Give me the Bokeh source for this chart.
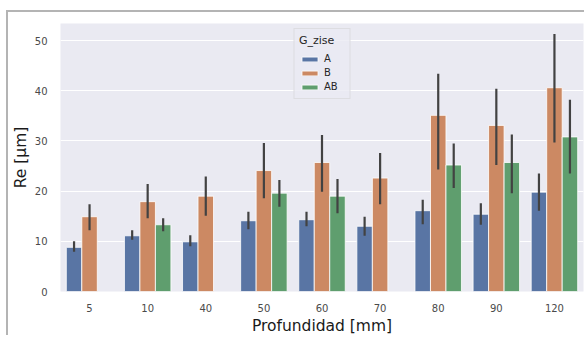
from bokeh.plotting import figure
from bokeh.models import FactorRange, ColumnDataSource, Legend, LegendItem, Range1d, SingleIntervalTicker
from bokeh.transform import dodge
from bokeh.embed import file_html
from bokeh.resources import INLINE

depths = ["5", "10", "40", "50", "60", "70", "80", "90", "120"]
groups = ["A", "B", "AB"]

a_mean = [8.8, 11.1, 9.9, 14.1, 14.3, 13.0, 16.1, 15.4, 19.8]
a_lo = [7.9, 10.3, 9.0, 12.4, 13.0, 11.1, 13.4, 13.3, 16.1]
a_hi = [10.0, 12.2, 11.2, 15.9, 15.9, 14.9, 18.3, 17.6, 23.5]

b_mean = [14.9, 17.9, 19.0, 24.1, 25.7, 22.6, 35.1, 33.1, 40.6]
b_lo = [12.2, 14.6, 15.1, 18.6, 19.9, 17.4, 24.3, 25.2, 29.7]
b_hi = [17.4, 21.4, 22.9, 29.6, 31.2, 27.6, 43.4, 40.4, 51.3]

ab_depths = ["10", "50", "60", "80", "90", "120"]
ab_mean = [13.3, 19.6, 19.0, 25.2, 25.7, 30.8]
ab_lo = [12.0, 16.9, 15.6, 20.6, 19.6, 23.5]
ab_hi = [14.6, 22.2, 22.4, 29.5, 31.3, 38.2]

colors = ["#5975A4", "#CC8963", "#5F9E6E"]
FONT = "DejaVu Sans"

p = figure(x_range=FactorRange(factors=depths, range_padding=0), y_range=Range1d(0, 53.4),
           width=578, height=325, output_backend="svg", toolbar_location=None,
           min_border_left=50, min_border_right=3, min_border_top=11, min_border_bottom=45)
p.styles = {"margin-left": "6px", "margin-top": "10px",
            "border-top": "2px solid #b4b4b4", "border-left": "2px solid #b4b4b4"}
p.background_fill_color = "#EAEAF2"
p.border_fill_color = "white"
p.outline_line_color = None

w = 0.8 / 3
series = [
    (groups[0], depths, a_mean, a_lo, a_hi, -w),
    (groups[1], depths, b_mean, b_lo, b_hi, 0.0),
    (groups[2], ab_depths, ab_mean, ab_lo, ab_hi, w),
]
items = []
for (name, cats, m, lo, hi, off), c in zip(series, colors):
    src = ColumnDataSource(dict(cat=cats, m=m, lo=lo, hi=hi))
    r = p.vbar(x=dodge("cat", off, range=p.x_range), top="m", bottom=0, width=w, source=src,
               fill_color=c, line_color="white", line_width=0.8)
    p.segment(x0=dodge("cat", off, range=p.x_range), x1=dodge("cat", off, range=p.x_range),
              y0="lo", y1="hi", source=src, line_color="#424242", line_width=2.2)
    items.append(LegendItem(label=name, renderers=[r]))

legend = Legend(items=items, location="top_center", title="G_zise")
legend.title_text_font = FONT
legend.title_text_font_size = "11px"
legend.title_text_font_style = "normal"
legend.title_text_color = "#262626"
legend.label_text_font = FONT
legend.label_text_font_size = "10px"
legend.label_text_color = "#262626"
legend.glyph_width = 20
legend.glyph_height = 6
legend.label_height = 13
legend.spacing = 1
legend.padding = 5
legend.margin = 5
legend.background_fill_color = "#EAEAF2"
legend.background_fill_alpha = 0.8
legend.border_line_color = "#d0d0d0"
p.add_layout(legend)

p.yaxis.ticker = SingleIntervalTicker(interval=10)
for ax in (p.xaxis[0], p.yaxis[0]):
    ax.axis_line_color = None
    ax.major_tick_line_color = None
    ax.minor_tick_line_color = None
    ax.major_label_text_font = FONT
    ax.major_label_text_font_size = "10px"
    ax.major_label_text_color = "#4a4a4a"
    ax.axis_label_text_font = FONT
    ax.axis_label_text_font_size = "15.5px"
    ax.axis_label_text_font_style = "normal"
    ax.axis_label_text_color = "#1a1a1a"
p.xaxis.axis_label = "Profundidad [mm]"
p.yaxis.axis_label = "Re [µm]"
p.xaxis.major_label_standoff = 6
p.yaxis.major_label_standoff = 7
p.xaxis.axis_label_standoff = 2
p.yaxis.axis_label_standoff = 2
p.xgrid.grid_line_color = None
p.ygrid.grid_line_color = "white"
p.ygrid.grid_line_width = 1

open("out.html", "w").write(file_html(p, INLINE))
